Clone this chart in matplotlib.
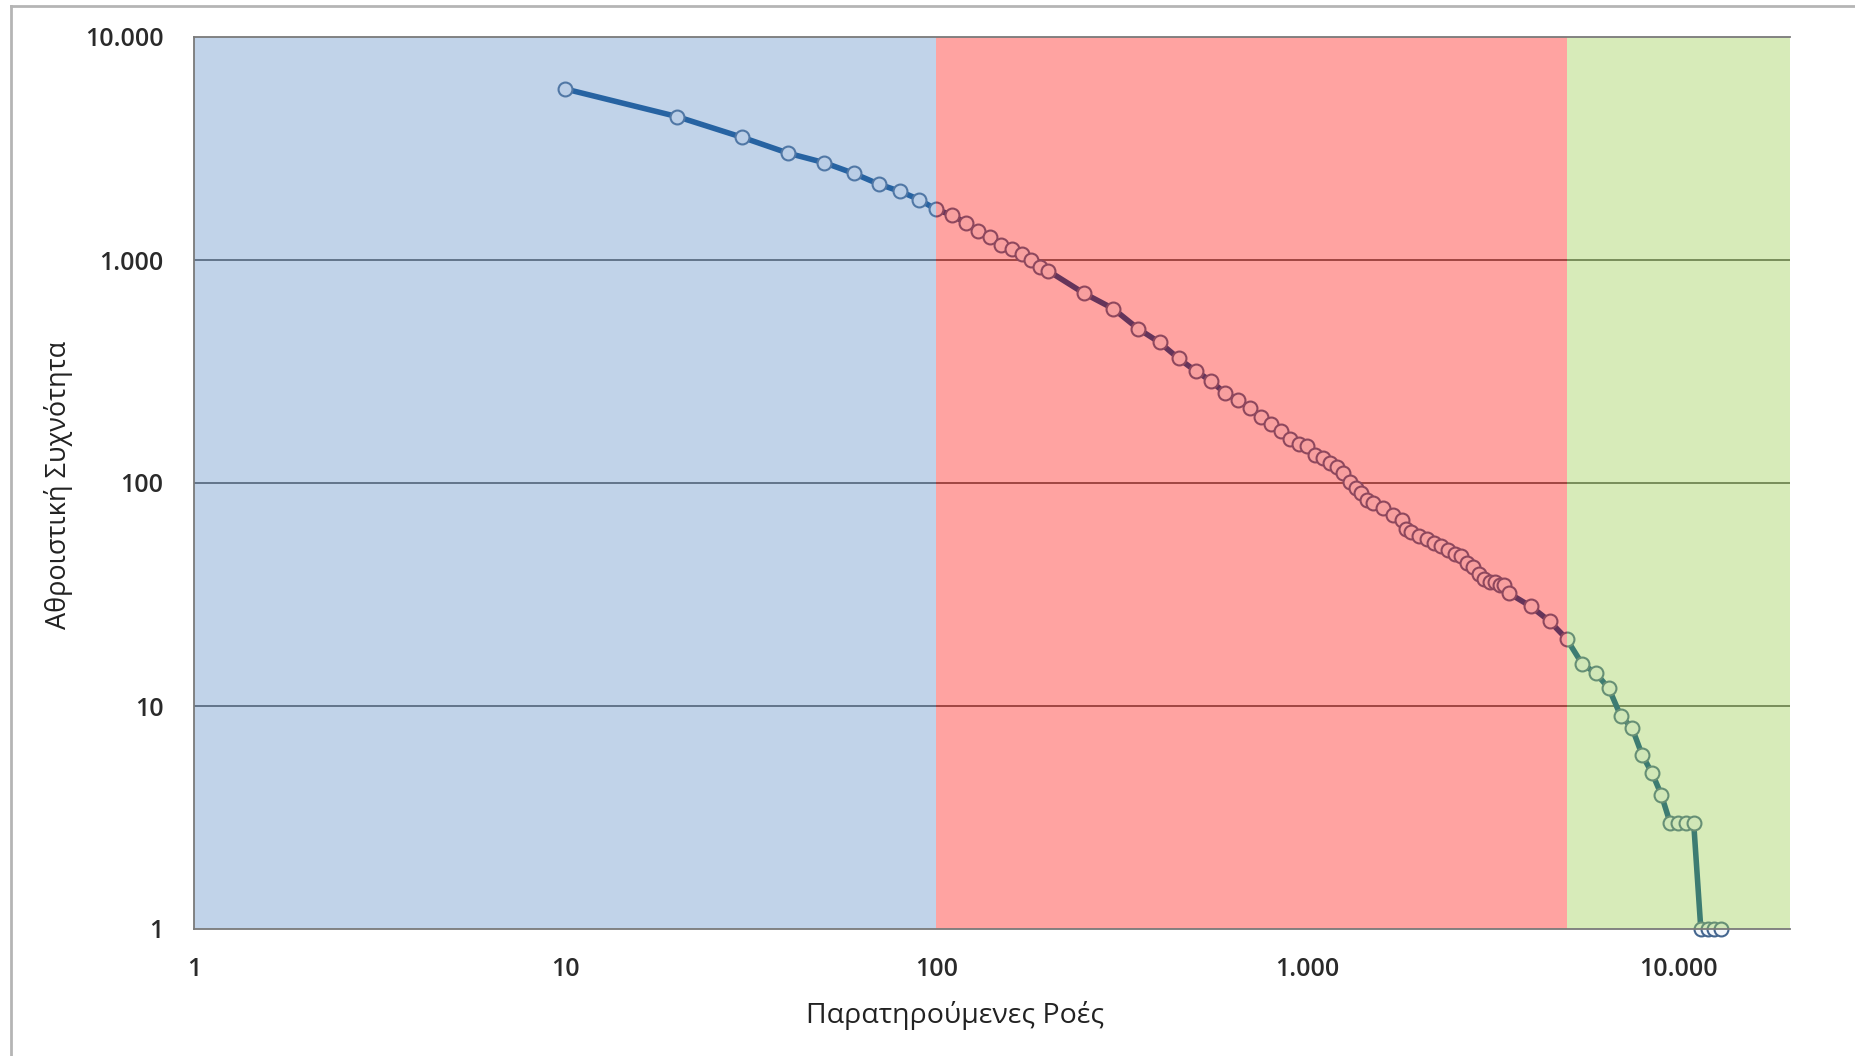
import matplotlib
matplotlib.use("Agg")
import matplotlib.pyplot as plt
from matplotlib.ticker import FixedLocator, FixedFormatter, NullLocator
from matplotlib.lines import Line2D

plt.rcParams['font.family'] = ['Open Sans', 'DejaVu Sans']

flows = [10, 20, 30, 40, 50, 60, 70, 80, 90,
         100, 110, 120, 130, 140, 150, 160, 170, 180, 190, 200,
         250, 300, 350, 400, 450, 500, 550, 600, 650, 700, 750, 800, 850, 900, 950, 1000,
         1050, 1100, 1150, 1200, 1250, 1300, 1350, 1400, 1450, 1500,
         1600, 1700, 1800, 1850, 1900,
         2000, 2100, 2200, 2300, 2400, 2500, 2600, 2700, 2800, 2900, 3000,
         3100, 3200, 3300, 3400, 3500,
         4000, 4500, 5000,
         5500, 6000, 6500, 7000, 7500, 8000, 8500, 9000, 9500, 10000,
         10500, 11000, 11500, 12000, 12500, 13000]
cum_freq = [5850, 4400, 3550, 3010, 2730, 2445, 2190, 2030, 1866,
            1685, 1592, 1470, 1349, 1265, 1167, 1117, 1064, 1000, 933, 896,
            710, 605, 492, 427, 362, 318, 287, 253, 236, 216, 198, 183, 171, 157, 149, 147,
            133, 129, 123, 118, 111, 101, 95, 90, 84, 81,
            77, 72, 68, 62, 60,
            58, 56, 54, 52, 50, 48, 47, 44, 42, 39, 37,
            36, 36, 35, 35, 32,
            28, 24, 20,
            15.5, 14, 12, 9, 8, 6, 5, 4, 3, 3,
            3, 3, 1, 1, 1, 1]

# shaded zones
zone_edges = [1, 100, 5000, 20000]
zone_colors = ['#6491c8', '#ff1a14', '#9bcf50']

x_ticks = [1, 10, 100, 1000, 10000]
x_labels = ['1', '10', '100', '1.000', '10.000']
y_ticks = [1, 10, 100, 1000, 10000]
y_labels = ['1', '10', '100', '1.000', '10.000']

W, H = 1856, 1056
fig = plt.figure(figsize=(W / 100, H / 100), dpi=100)
ax = fig.add_axes([194 / W, 1 - 929 / H, 1596 / W, 892 / H])

ax.set_xscale('log')
ax.set_yscale('log')
ax.set_xlim(1, 20000)
ax.set_ylim(1, 10000)

# gridlines under everything
for v in [10, 100, 1000]:
    ax.axhline(v, color='#555555', lw=1.3, zorder=1)

ax.plot(flows, cum_freq, color='#00468a', lw=4, zorder=3,
        marker='o', ms=10, mfc='#f4f8fc', mec='#44668f', mew=1.5,
        clip_on=False)

# translucent coloured zones on top, which tint the line and markers
for i in range(3):
    ax.axvspan(zone_edges[i], zone_edges[i + 1], color=zone_colors[i],
               alpha=0.4, lw=0, zorder=5)

ax.xaxis.set_major_locator(FixedLocator(x_ticks))
ax.xaxis.set_major_formatter(FixedFormatter(x_labels))
ax.xaxis.set_minor_locator(NullLocator())
ax.yaxis.set_major_locator(FixedLocator(y_ticks))
ax.yaxis.set_major_formatter(FixedFormatter(y_labels))
ax.yaxis.set_minor_locator(NullLocator())
ax.tick_params(axis='both', length=0, labelsize=18, colors='#2a2a2a')
ax.tick_params(axis='x', pad=20)
ax.tick_params(axis='y', pad=22)
for lab in ax.get_xticklabels() + ax.get_yticklabels():
    lab.set_fontweight('semibold')

for side in ['top', 'bottom', 'left']:
    ax.spines[side].set_color('#7a7a7a')
    ax.spines[side].set_linewidth(1.3)
    ax.spines[side].set_zorder(6)
ax.spines['right'].set_visible(False)

fig.text(955 / W, 1 - 1016 / H, 'Παρατηρούμενες Ροές', ha='center', va='center',
         fontsize=20.5, color='#222222')
fig.text(59 / W, 1 - 485 / H, 'Αθροιστική Συχνότητα', ha='center', va='center',
         rotation=90, fontsize=19.5, color='#222222')

# outer chart frame
fig.add_artist(Line2D([11 / W, 11 / W], [0, 1 - 6 / H], transform=fig.transFigure,
                      color='#b5b5b5', lw=2))
fig.add_artist(Line2D([11 / W, 1], [1 - 6 / H, 1 - 6 / H], transform=fig.transFigure,
                      color='#b5b5b5', lw=2))

fig.savefig('out.png', dpi=100, facecolor='white')
